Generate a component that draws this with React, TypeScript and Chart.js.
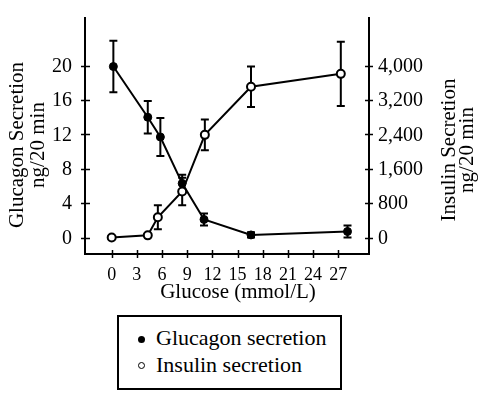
import React, { useEffect, useRef } from "react";
import { Chart, registerables } from "chart.js";

Chart.register(...registerables);

// ---- data ----
const glucoseGlucagon = [0.2, 4.3, 5.8, 8.4, 11.0, 16.6, 28.1];
const glucagonValues = [19.9, 14.0, 11.7, 6.3, 2.1, 0.3, 0.7];
const glucagonErrors = [3.0, 1.9, 2.2, 1.0, 0.7, 0.3, 0.7];

const glucoseInsulin = [0, 4.3, 5.5, 8.4, 11.1, 16.6, 27.3];
const insulinValues = [0, 50, 470, 1070, 2390, 3510, 3810];
const insulinErrors = [0, 0, 280, 320, 360, 470, 750];

const xTicks = [0, 3, 6, 9, 12, 15, 18, 21, 24, 27];
const glucagonTicks = [0, 4, 8, 12, 16, 20];
const insulinTicks = [0, 800, 1600, 2400, 3200, 4000];

const seriesLabels = ["Glucagon secretion", "Insulin secretion"];
const xTitle = "Glucose (mmol/L)";
const leftTitle = ["Glucagon Secretion", "ng/20 min"];
const rightTitle = ["Insulin Secretion", "ng/20 min"];

const FONT = "'Liberation Serif', 'Times New Roman', serif";
const errorSets = [glucagonErrors, insulinErrors];
const fmt = (v: number) => v.toLocaleString("en-US");

const errorBarPlugin = {
  id: "errorBars",
  beforeDatasetsDraw(chart: any) {
    const ctx = chart.ctx;
    ctx.save();
    ctx.strokeStyle = "#000";
    ctx.lineWidth = 2;
    chart.data.datasets.forEach((ds: any, i: number) => {
      const meta = chart.getDatasetMeta(i);
      const scale = chart.scales[ds.yAxisID];
      const errs = errorSets[i];
      meta.data.forEach((pt: any, j: number) => {
        const e = errs[j];
        if (!e) return;
        const v = ds.data[j].y;
        const x = pt.x;
        const yT = scale.getPixelForValue(v + e);
        const yB = scale.getPixelForValue(v - e);
        ctx.beginPath();
        ctx.moveTo(x, yT);
        ctx.lineTo(x, yB);
        ctx.moveTo(x - 4, yT);
        ctx.lineTo(x + 4, yT);
        ctx.moveTo(x - 4, yB);
        ctx.lineTo(x + 4, yB);
        ctx.stroke();
      });
    });
    ctx.restore();
  },
};

const axisTextPlugin = {
  id: "axisText",
  afterDraw(chart: any) {
    const ctx = chart.ctx;
    const { left, right, bottom } = chart.chartArea;
    const xs = chart.scales.x;
    const y = chart.scales.y;
    const y1 = chart.scales.y1;
    ctx.save();
    // ticks crossing the axes
    ctx.strokeStyle = "#000";
    ctx.lineWidth = 1.5;
    ctx.beginPath();
    xTicks.forEach((v) => {
      const px = Math.round(xs.getPixelForValue(v)) + 0.5;
      ctx.moveTo(px, bottom + 4);
      ctx.lineTo(px, bottom - 4);
    });
    glucagonTicks.forEach((v) => {
      const py = Math.round(y.getPixelForValue(v)) + 0.5;
      ctx.moveTo(left - 4, py);
      ctx.lineTo(left + 5, py);
    });
    insulinTicks.forEach((v) => {
      const py = Math.round(y1.getPixelForValue(v)) + 0.5;
      ctx.moveTo(right + 4, py);
      ctx.lineTo(right - 4, py);
    });
    ctx.stroke();

    ctx.fillStyle = "#000";
    // tick labels
    ctx.font = `18px ${FONT}`;
    ctx.textAlign = "center";
    ctx.textBaseline = "alphabetic";
    xTicks.forEach((v) => {
      ctx.fillText(String(v), xs.getPixelForValue(v), bottom + 26);
    });
    ctx.font = `20px ${FONT}`;
    ctx.textAlign = "right";
    ctx.textBaseline = "middle";
    glucagonTicks.forEach((v) => {
      ctx.fillText(String(v), left - 13, y.getPixelForValue(v) + 1);
    });
    ctx.textAlign = "left";
    insulinTicks.forEach((v) => {
      ctx.fillText(fmt(v), right + 9, y1.getPixelForValue(v) + 1);
    });

    // titles
    ctx.font = `21px ${FONT}`;
    ctx.textAlign = "center";
    ctx.textBaseline = "alphabetic";
    ctx.fillText(xTitle, 238, 298);

    const drawVertical = (lines: string[], baselines: number[], cy: number) => {
      lines.forEach((t, k) => {
        ctx.save();
        ctx.translate(baselines[k], cy);
        ctx.rotate(-Math.PI / 2);
        ctx.fillText(t, 0, 0);
        ctx.restore();
      });
    };
    drawVertical(leftTitle, [23, 44], 145);
    drawVertical(rightTitle, [455, 473], 150);
    ctx.restore();
  },
};

export default function App() {
  const canvasRef = useRef<HTMLCanvasElement | null>(null);

  useEffect(() => {
    const canvas = canvasRef.current;
    if (!canvas) return;

    const axisCommon = {
      border: { display: true, color: "#000", width: 2 },
      grid: { display: false, drawOnChartArea: false, drawTicks: false },
      ticks: { display: false, autoSkip: false },
    };

    const chart = new Chart(canvas, {
      type: "line",
      data: {
        datasets: [
          {
            label: seriesLabels[0],
            data: glucoseGlucagon.map((g, i) => ({ x: g, y: glucagonValues[i] })),
            yAxisID: "y",
            borderColor: "#000",
            borderWidth: 2,
            pointRadius: 4,
            pointBackgroundColor: "#000",
            pointBorderColor: "#000",
            pointBorderWidth: 1,
            fill: false,
            tension: 0,
          },
          {
            label: seriesLabels[1],
            data: glucoseInsulin.map((g, i) => ({ x: g, y: insulinValues[i] })),
            yAxisID: "y1",
            borderColor: "#000",
            borderWidth: 2,
            pointRadius: 4,
            pointBackgroundColor: "#fff",
            pointBorderColor: "#000",
            pointBorderWidth: 2,
            fill: false,
            tension: 0,
          },
        ],
      },
      options: {
        animation: false,
        responsive: false,
        devicePixelRatio: 1,
        layout: { padding: { top: 18, left: 0, right: 0, bottom: 0 } },
        plugins: {
          legend: { display: false },
          tooltip: { enabled: false },
        },
        scales: {
          x: {
            type: "linear",
            min: -3.18,
            max: 30.66,
            afterFit: (s: any) => {
              s.height = 56;
            },
            afterBuildTicks: (s: any) => {
              s.ticks = xTicks.map((v) => ({ value: v }));
            },
            ...axisCommon,
          },
          y: {
            type: "linear",
            position: "left",
            min: -1.92,
            max: 25.55,
            afterFit: (s: any) => {
              s.width = 85;
            },
            afterBuildTicks: (s: any) => {
              s.ticks = glucagonTicks.map((v) => ({ value: v }));
            },
            ...axisCommon,
          },
          y1: {
            type: "linear",
            position: "right",
            min: -384,
            max: 5110,
            afterFit: (s: any) => {
              s.width = 114;
            },
            afterBuildTicks: (s: any) => {
              s.ticks = insulinTicks.map((v) => ({ value: v }));
            },
            ...axisCommon,
          },
        },
      },
      plugins: [errorBarPlugin, axisTextPlugin],
    } as any);

    return () => chart.destroy();
  }, []);

  const textStyle: React.CSSProperties = {
    position: "absolute",
    fontFamily: FONT,
    fontSize: 22,
    lineHeight: "22px",
    color: "#000",
    whiteSpace: "nowrap",
  };

  return (
    <div
      style={{
        position: "fixed",
        left: 0,
        top: 0,
        width: 483,
        height: 399,
        background: "#fff",
      }}
    >
      <canvas
        ref={canvasRef}
        width={483}
        height={310}
        style={{ position: "absolute", left: 0, top: 0, width: 483, height: 310 }}
      />
      <div
        style={{
          position: "absolute",
          left: 117,
          top: 315,
          width: 225,
          height: 75,
          boxSizing: "border-box",
          border: "2px solid #000",
        }}
      />
      <div
        style={{
          position: "absolute",
          left: 138,
          top: 336,
          width: 7,
          height: 7,
          borderRadius: "50%",
          background: "#000",
        }}
      />
      <div
        style={{
          position: "absolute",
          left: 138,
          top: 362,
          width: 7,
          height: 7,
          boxSizing: "border-box",
          borderRadius: "50%",
          border: "1.5px solid #000",
          background: "#fff",
        }}
      />
      <span style={{ ...textStyle, left: 156, top: 327 }}>{seriesLabels[0]}</span>
      <span style={{ ...textStyle, left: 156, top: 354 }}>{seriesLabels[1]}</span>
    </div>
  );
}
